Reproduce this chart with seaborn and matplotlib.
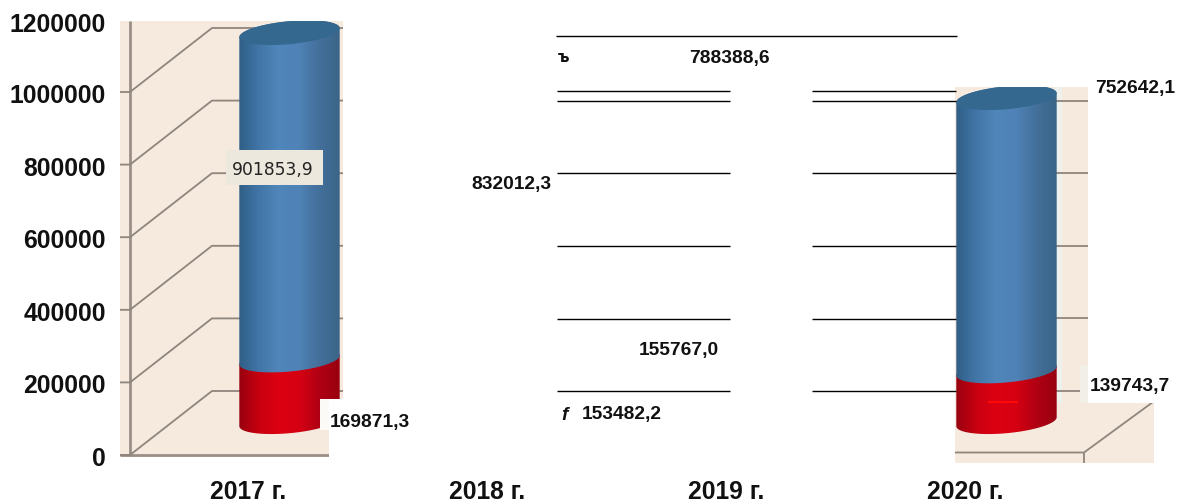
import numpy as np
import pandas as pd
import seaborn as sns
import matplotlib.pyplot as plt
from matplotlib.colors import LinearSegmentedColormap
from matplotlib.patches import Polygon, Rectangle
from matplotlib.transforms import ScaledTranslation

years = ["2017 г.", "2018 г.", "2019 г.", "2020 г."]
blue_values = [901853.9, 832012.3, 788388.6, 752642.1]
red_values = [169871.3, 155767.0, 153482.2, 139743.7]
y_ticks = [0, 200000, 400000, 600000, 800000, 1000000, 1200000]
back_levels = [0, 200000, 400000, 600000, 800000]

W, H = 1183, 504
PX_PER_CAT = 239.0
X0_PX = 289.5
Y0_PX = 455.0
UNITS_PER_PX = 200000 / 72.6
AX_LEFT, AX_BOTTOM = 120, 470


def X(px):
    return (px - X0_PX) / PX_PER_CAT


def Y(px):
    return (Y0_PX - px) * UNITS_PER_PX


def rect(x0, y0, x1, y1, color, z):
    ax.add_patch(Rectangle((X(x0), Y(y1)), X(x1) - X(x0), Y(y0) - Y(y1),
                           facecolor=color, edgecolor="none", zorder=z))


def line(xs, ys, color, lw, z):
    ax.plot([X(v) for v in xs], [Y(v) for v in ys], color=color, lw=lw, zorder=z,
            solid_capstyle="butt")


sns.set_theme(style="white")
plt.rcParams["font.family"] = ["Liberation Sans", "DejaVu Sans"]

fig = plt.figure(figsize=(W / 100, H / 100), dpi=100)
ax = fig.add_axes([AX_LEFT / W, (H - AX_BOTTOM) / H, 1 - AX_LEFT / W, AX_BOTTOM / H])

# bars stand on the 3D floor, a bit above the axis zero
base = Y(434)
df = pd.DataFrame({"year": years, "red": red_values, "blue": blue_values})
sns.barplot(data=df, x="year", y="red", bottom=base, color="#C00010", width=0.42,
            ax=ax, zorder=2)
n_red = len(ax.patches)
sns.barplot(data=df, x="year", y="blue", bottom=[base + v for v in red_values],
            color="#4F81BD", width=0.42, ax=ax, zorder=2)

wall = "#8E857C"
beige = "#F6EADF"

# beige walls, left part
rect(120, 21, 329, 457, beige, 0)
rect(329, 21, 343, 399, beige, 0)
line([130, 130], [21, 456], "#9A9087", 2, 1)
line([120, 329], [455, 455], "#9A9087", 2, 1)
for v in back_levels + [1000000]:
    front = Y0_PX - v / UNITS_PER_PX
    line([120, 130, 212, 343], [front, front, front - 64, front - 64], wall, 1.3, 1)

# beige walls, right part
rect(955, 87, 1088, 403, beige, 0)
rect(955, 403, 1154, 463, beige, 0)
rect(1055, 87, 1062, 403, "#EEF0EC", 0.5)
for v in back_levels:
    back = Y0_PX - v / UNITS_PER_PX - 64
    line([1055, 1088], [back, back], wall, 1.3, 1)
line([955, 1084, 1153], [452.5, 452.5, 402], wall, 1.3, 1)
line([1084, 1084], [452.5, 463], wall, 1.3, 1)

blue_map = LinearSegmentedColormap.from_list(
    "cyl_blue", ["#2F5F86", "#4276A8", "#5086BA", "#4F82B6", "#436F9A", "#3A6588"])
red_map = LinearSegmentedColormap.from_list(
    "cyl_red", ["#98000F", "#C80010", "#DC0012", "#D40012", "#B00014", "#98000F"])
shade = np.linspace(0, 1, 256).reshape(1, -1)

ry = 11.5 * UNITS_PER_PX
tilt = 4.5 * UNITS_PER_PX
front_gap = 12.3 * UNITS_PER_PX


def arc(xc, rx, yc, t0, t1):
    t = np.linspace(t0, t1, 60)
    return np.column_stack([xc + rx * np.cos(t), yc + ry * np.sin(t) + tilt * np.cos(t)])


# turn each seaborn bar into a shaded cylinder
for i, bar in enumerate(ax.patches[:2 * n_red]):
    x0, w = bar.get_x(), bar.get_width()
    y0, h = bar.get_y(), bar.get_height()
    xc, rx = x0 + w / 2, w / 2
    bottom_c = y0 + front_gap
    top_c = y0 + h + front_gap
    is_red = i < n_red
    body = Polygon(np.vstack([arc(xc, rx, bottom_c, np.pi, 2 * np.pi),
                              arc(xc, rx, top_c, 0, np.pi)]),
                   transform=ax.transData, facecolor="none", edgecolor="none")
    ax.add_patch(body)
    img = ax.imshow(shade, cmap=red_map if is_red else blue_map, aspect="auto",
                    extent=(x0, x0 + w, y0 - 2 * front_gap, y0 + h + 3 * front_gap),
                    zorder=2.2 if is_red else 2.4)
    img.set_clip_path(body)
    bar.set_visible(False)
    if not is_red:
        ax.add_patch(Polygon(arc(xc, rx, top_c, 0, 2 * np.pi), facecolor="#35688F",
                             edgecolor="none", zorder=2.6))

# white covers hiding the middle of the chart
rect(343, -20, 955, 504, "white", 4)
rect(329, 399, 343, 504, "white", 4)
rect(120, -20, 343, 21, "white", 4)
rect(320, 399, 329, 430, "#FBFAF6", 4)
rect(1088, 0, 1183, 403, "white", 4)
rect(955, 0, 1183, 87, "white", 3.5)
rect(1080, 365, 1088, 403, "#F1EFE8", 3.5)
rect(988, 400.5, 1018, 402.5, "#FF0808", 3)

# black lines left over in the middle
line([556, 957], [36, 36], "black", 1, 5)
for y_px in [91.3, 101, 173.3, 246.3, 319.3, 391]:
    line([557, 730], [y_px, y_px], "black", 1, 5)
    line([812, 956], [y_px, y_px], "black", 1, 5)

# value labels
value_font = dict(fontsize=13.8, fontweight="bold", color="#111111", zorder=6, va="center")
ax.text(X(471), Y(185), "832012,3", ha="left", **value_font)
ax.text(X(689), Y(58), "788388,6", ha="left", **value_font)
ax.text(X(639), Y(351), "155767,0", ha="left", **value_font)
ax.text(X(582), Y(415), "153482,2", ha="left", **value_font)
ax.text(X(330), Y(422), "169871,3", ha="left", **value_font)
ax.text(X(1095), Y(88), "752642,1", ha="left", **value_font)
ax.text(X(1090), Y(386), "139743,7", ha="left", **value_font)
ax.text(X(558), Y(58), "ъ", ha="left", fontsize=11, fontweight="bold", family="DejaVu Sans",
        color="#111111", zorder=6, va="center")
ax.text(X(561), Y(415), "f", ha="left", fontsize=13.8, fontweight="bold", style="italic",
        color="#111111", zorder=6, va="center")
rect(226, 150, 323, 185, "#EDE8DD", 5)
ax.text(X(273), Y(170), "901853,9", ha="center", va="center", fontsize=12.3,
        family="DejaVu Sans", color="#222222", zorder=6)

ax.set_xlim(X(AX_LEFT), X(W))
ax.set_ylim(Y(AX_BOTTOM), Y(0))
ax.set_yticks(y_ticks, [str(v) for v in y_ticks])
ax.set_xticks(range(len(years)), years)
ax.set_xlabel("")
ax.set_ylabel("")
ax.tick_params(axis="y", length=0, pad=10, labelsize=17.8)
ax.tick_params(axis="x", length=0, pad=7, labelsize=17.7)
for lab in ax.get_yticklabels() + ax.get_xticklabels():
    lab.set_fontweight("bold")
    lab.set_color("#111111")
for lab in ax.get_xticklabels():
    lab.set_transform(lab.get_transform() + ScaledTranslation(-41 / 100, 0, fig.dpi_scale_trans))
for lab, v in zip(ax.get_yticklabels(), y_ticks):
    drop = 3 if v == 1200000 else 1.5
    lab.set_transform(lab.get_transform() + ScaledTranslation(0, -drop / 100, fig.dpi_scale_trans))
sns.despine(ax=ax, left=True, bottom=True)

fig.savefig("out.png", dpi=100, facecolor="white")
